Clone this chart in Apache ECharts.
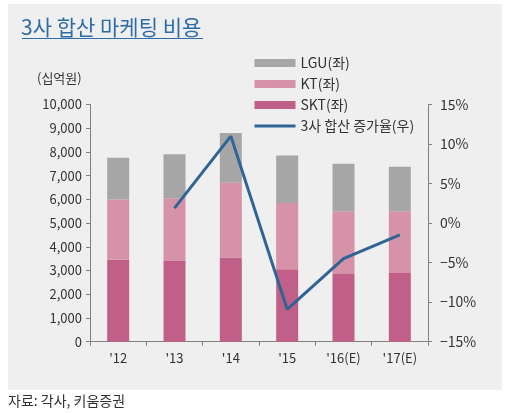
<!DOCTYPE html>
<html><head><meta charset="utf-8">
<script src="https://cdn.jsdelivr.net/npm/echarts@6/dist/echarts.min.js"></script>
<style>html,body{margin:0;padding:0;background:#fff}#c{width:508px;height:413px}</style>
</head><body><div id="c"></div>
<script>
var categories = ["'12", "'13", "'14", "'15", "'16(E)", "'17(E)"];
var skt = [3450, 3400, 3550, 3050, 2850, 2900];
var kt = [2550, 2650, 3150, 2800, 2650, 2600];
var lgu = [1750, 1850, 2100, 2000, 2000, 1880];
var growth = [null, 1.9, 11.0, -10.9, -4.5, -1.5];
var leftTicks = {min: 0, max: 10000, interval: 1000};
var rightTicks = {min: -15, max: 15, interval: 5};

var font = "'Noto Sans CJK KR', 'Noto Sans', sans-serif";
var chart = echarts.init(document.getElementById('c'), null, {renderer: 'canvas'});
chart.setOption({
  backgroundColor: '#ffffff',
  animation: false,
  textStyle: {fontFamily: font},
  graphic: [
    {type: 'rect', z: -10, shape: {x: 8, y: 4, width: 494, height: 386}, style: {fill: '#efefef'}},
    {type: 'text', left: 21, top: 17, style: {text: '3사 합산 마케팅 비용', font: '21px ' + font, fill: '#2e6ca8'}},
    {type: 'rect', shape: {x: 22, y: 38, width: 181, height: 1}, style: {fill: '#2e6ca8'}},
    {type: 'text', left: 37, top: 72, style: {text: '(십억원)', font: '13px ' + font, fill: '#333'}},
    {type: 'text', left: 8, top: 394, style: {text: '자료: 각사, 키움증권', font: '14px ' + font, fill: '#333'}}
  ],
  legend: {
    orient: 'vertical', left: 248, top: 51,
    itemWidth: 41, itemHeight: 8, itemGap: 7,
    textStyle: {fontSize: 14, color: '#333', fontFamily: font},
    data: [
      {name: 'LGU(좌)', icon: 'rect'},
      {name: 'KT(좌)', icon: 'rect'},
      {name: 'SKT(좌)', icon: 'rect'},
      {name: '3사 합산 증가율(우)', itemStyle: {opacity: 0}, lineStyle: {width: 3, color: '#2e6496'}}
    ]
  },
  grid: {left: 90, right: 80, top: 104.5, bottom: 71.3},
  xAxis: {
    type: 'category', data: categories,
    axisLine: {lineStyle: {color: '#808080'}},
    axisTick: {show: true, length: 4, lineStyle: {color: '#808080'}},
    axisLabel: {color: '#333', fontSize: 13, margin: 10, fontFamily: font}
  },
  yAxis: [
    {
      type: 'value', min: leftTicks.min, max: leftTicks.max, interval: leftTicks.interval,
      splitLine: {show: false},
      axisLine: {show: true, lineStyle: {color: '#808080'}},
      axisTick: {show: true, length: 4, lineStyle: {color: '#808080'}},
      axisLabel: {color: '#333', fontSize: 13, margin: 8, fontFamily: font,
        formatter: function (v) { return v.toLocaleString('en-US'); }}
    },
    {
      type: 'value', position: 'right', min: rightTicks.min, max: rightTicks.max, interval: rightTicks.interval,
      splitLine: {show: false},
      axisLine: {show: true, lineStyle: {color: '#808080'}},
      axisTick: {show: true, length: 4, lineStyle: {color: '#808080'}},
      axisLabel: {color: '#333', fontSize: 14, margin: 12, fontFamily: font,
        formatter: function (v) { return (v < 0 ? '\u2212' + Math.abs(v) : v) + '%'; }}
    }
  ],
  series: [
    {name: 'SKT(좌)', type: 'bar', stack: 'a', data: skt, barWidth: 22, itemStyle: {color: '#c06088'}},
    {name: 'KT(좌)', type: 'bar', stack: 'a', data: kt, barWidth: 22, itemStyle: {color: '#d592a8'}},
    {name: 'LGU(좌)', type: 'bar', stack: 'a', data: lgu, barWidth: 22, itemStyle: {color: '#a6a6a6'}},
    {name: '3사 합산 증가율(우)', type: 'line', yAxisIndex: 1, data: growth, symbol: 'none',
      lineStyle: {color: '#2e6496', width: 3}, itemStyle: {color: '#2e6496'}, z: 5}
  ]
});
</script></body></html>
